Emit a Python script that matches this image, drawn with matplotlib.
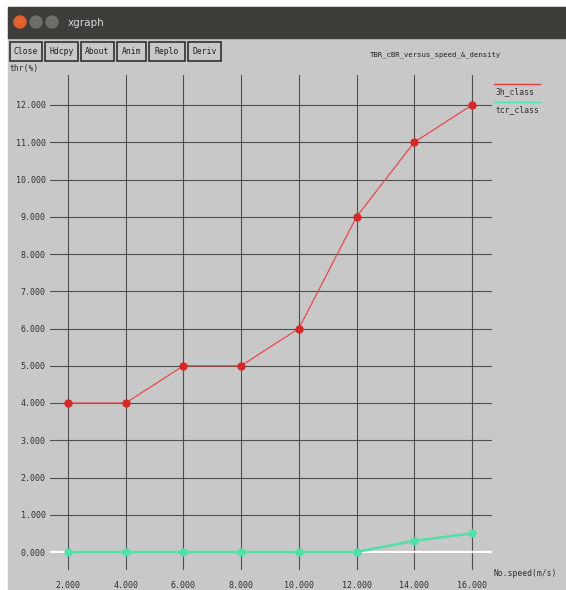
import matplotlib
matplotlib.use("Agg")
import matplotlib.pyplot as plt
from matplotlib.patches import Rectangle, Circle

# series values
speed = [2, 4, 6, 8, 10, 12, 14, 16]
class_3h = [4, 4, 5, 5, 6, 9, 11, 12]
class_tcr = [0, 0, 0, 0, 0, 0, 0.3, 0.5]
y_ticks = list(range(0, 13))
buttons = ["Close", "Hdcpy", "About", "Anim", "Replot", "Deriv"]

W, H = 566, 590
fig = plt.figure(figsize=(W / 100, H / 100), dpi=100)
fig.patch.set_facecolor("white")

# window chrome drawn in pixel coordinates
bg = fig.add_axes([0, 0, 1, 1])
bg.set_xlim(0, W)
bg.set_ylim(H, 0)
bg.axis("off")
bg.add_patch(Rectangle((8, 7), W - 8, H - 7, color="#c8c8c8", zorder=0))
bg.add_patch(Rectangle((8, 7), W - 8, 31, color="#3e3d39", zorder=1))
bg.add_patch(Circle((20, 22), 6, color="#e0632f", zorder=2))
bg.add_patch(Circle((36, 22), 6, color="#6c6c68", zorder=2))
bg.add_patch(Circle((52, 22), 6, color="#6c6c68", zorder=2))
bg.text(68, 23, "xgraph", color="#d8d8d8", fontsize=7.5, va="center")

bx = [10, 45, 81, 117, 149, 188]
bw = [32, 33, 33, 29, 36, 33]
for x0, w, name in zip(bx, bw, buttons):
    bg.add_patch(Rectangle((x0, 42), w, 19, fill=False, ec="#303030", lw=1.2, zorder=2))
    bg.text(x0 + w / 2, 52, name[:5], fontsize=5.8, ha="center", va="center",
            family="DejaVu Sans Mono", color="#202020")
bg.text(370, 55, "TBR_cBR_versus_speed_&_density", fontsize=5.2,
        family="DejaVu Sans Mono", color="#202020", va="center")
bg.text(10, 68, "thr(%)", fontsize=5.8, family="DejaVu Sans Mono", color="#303030", va="center")
bg.text(494, 574, "No.speed(m/s)", fontsize=5.8, family="DejaVu Sans Mono",
        color="#303030", va="center")

# legend entries: line above the label
bg.plot([494, 540], [84, 84], color="#e83c3c", lw=1)
bg.text(496, 92, "3h_class", fontsize=5.8, family="DejaVu Sans Mono", color="#303030", va="center")
bg.plot([494, 540], [102, 102], color="#50e0a8", lw=1)
bg.text(496, 110, "tcr_class", fontsize=5.8, family="DejaVu Sans Mono", color="#303030", va="center")

# data area
left, right, top, bottom = 50, 492, 75, 570
ax = fig.add_axes([left / W, 1 - bottom / H, (right - left) / W, (bottom - top) / H])
ax.patch.set_alpha(0)
x_per_px = 14 / (472 - 68)
y_per_px = 12 / (552 - 105)
ax.set_xlim(2 - (68 - left) * x_per_px, 16 + (right - 472) * x_per_px)
ax.set_ylim(0 - (bottom - 552) * y_per_px, 12 + (105 - top) * y_per_px)
for s in ax.spines.values():
    s.set_visible(False)
ax.set_xticks(speed)
ax.set_yticks(y_ticks)
ax.set_xticklabels([f"{v:.3f}" for v in speed])
ax.set_yticklabels([f"{v:.3f}" for v in y_ticks])
ax.tick_params(axis="y", length=0, labelsize=6, colors="#303030", pad=3)
ax.tick_params(axis="x", length=0, labelsize=6, colors="#303030", pad=8)
for lab in ax.get_xticklabels() + ax.get_yticklabels():
    lab.set_family("DejaVu Sans Mono")
for v in speed:
    ax.axvline(v, color="#505050", lw=0.8, zorder=1)
for v in y_ticks:
    ax.axhline(v, color="#505050", lw=0.8, zorder=1)

ax.axhline(0, color="white", lw=1.6, zorder=2)
ax.plot(speed, class_tcr, color="#50e0a8", lw=1.8, marker="o", ms=5, zorder=3)
ax.plot(speed, class_3h, color="#e84a4a", lw=0.9, marker="o", ms=5,
        mfc="#d82828", mec="#d82828", zorder=4)

fig.savefig("out.png", dpi=100)
